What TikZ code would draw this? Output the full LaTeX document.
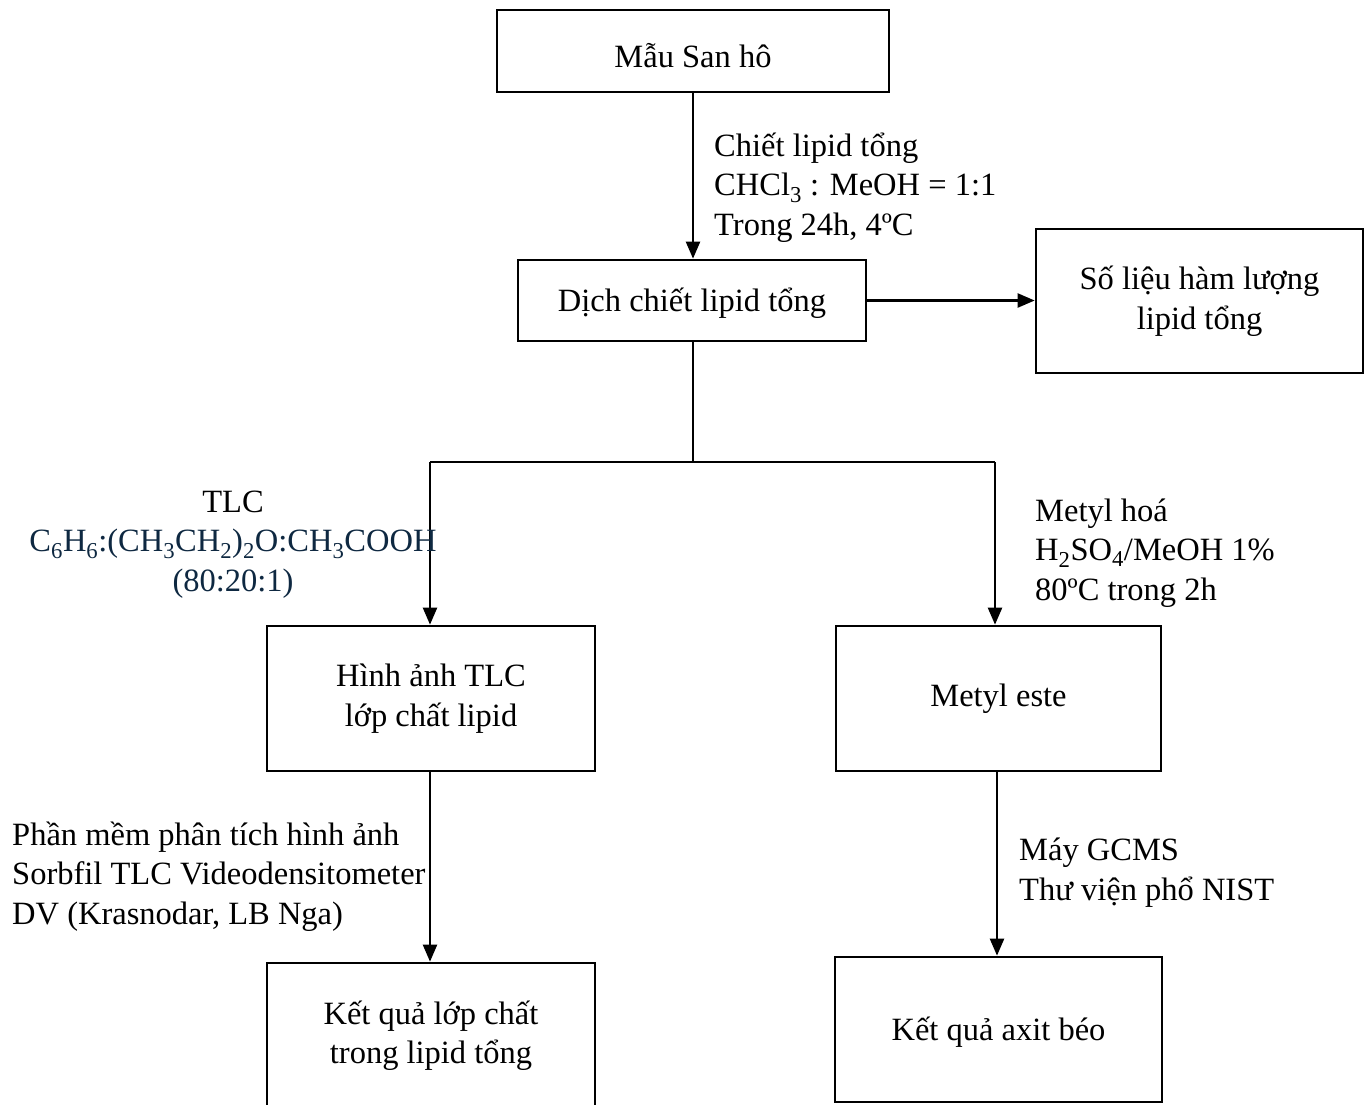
\documentclass[tikz,border=0pt]{standalone}
\usepackage{fontspec}
\setmainfont{Liberation Serif}
\usetikzlibrary{arrows.meta,calc}
\definecolor{navy}{HTML}{0E2841}
\tikzset{
  box/.style={draw=black, line width=2.7pt, fill=white, align=center, inner sep=0pt},
  arr/.style={line width=2.3pt, -{Triangle[length=17pt,width=14pt]}},
  thinline/.style={line width=1.3pt},
  lbl/.style={inner sep=0pt, anchor=base west, align=left},
  lblc/.style={inner sep=0pt, anchor=base, align=center},
}
\newcommand{\lowertext}[2]{\raisebox{-#1}[\height][\depth]{#2}}
\begin{document}
\begin{tikzpicture}[x=1pt,y=-1pt]
\fontsize{32.5}{39.5}\selectfont
\useasboundingbox (0,0) rectangle (1372,1104);
\clip (0,0) rectangle (1372,1104);
\node[box, minimum width=392pt, minimum height=82pt] (b1) at (693,51) {\lowertext{5pt}{Mẫu San hô}};
\node[box, minimum width=348pt, minimum height=81pt] (b2) at (692,300.5) {\lowertext{3pt}{Dịch chiết lipid tổng}};
\node[box, minimum width=327pt, minimum height=144pt] (b3) at (1199.5,301) {Số liệu hàm lượng\\lipid tổng};
\node[box, minimum width=328pt, minimum height=145pt] (b4) at (431,698.5) {Hình ảnh TLC\\lớp chất lipid};
\node[box, minimum width=325pt, minimum height=145pt] (b5) at (998.5,698.5) {Metyl este};
\node[box, minimum width=328pt, minimum height=145pt] (b6) at (431,1035.5) {Kết quả lớp chất\\trong lipid tổng};
\node[box, minimum width=327pt, minimum height=145pt] (b7) at (998.5,1029.5) {\lowertext{3pt}{Kết quả axit béo}};

\coordinate (j) at (693,462);
\coordinate (jl) at (430,462);
\coordinate (jr) at (995,462);

\draw[arr] (b1.south -| j) -- (j |- b2.north);
\draw[arr] (b2.east) -- (b3.west |- b2.east);
\draw[thinline] (j |- b2.south) -- (j);
\draw[thinline] (jl) -- (jr);
\draw[arr] (jl) -- (jl |- b4.north);
\draw[arr] (jr) -- (jr |- b5.north);
\draw[arr] (b4.south -| jl) -- (jl |- b6.north);
\draw[arr] (b5.south -| 997,0) -- (997,0 |- b7.north);

\node[lbl] (l1) at (714,235) {Chiết lipid tổng\\CHCl\textsubscript{3} : MeOH = 1:1\\Trong 24h, 4ºC};
\node[lblc] (l2) at (233,591) {TLC\\\textcolor{navy}{C\textsubscript{6}H\textsubscript{6}:(CH\textsubscript{3}CH\textsubscript{2})\textsubscript{2}O:CH\textsubscript{3}COOH}\\\textcolor{navy}{(80:20:1)}};
\node[lbl] (l3) at (1035,600) {Metyl hoá\\H\textsubscript{2}SO\textsubscript{4}/MeOH 1\%\\80ºC trong 2h};
\node[lbl] (l4) at (12,924) {Phần mềm phân tích hình ảnh\\Sorbfil TLC Videodensitometer\\DV (Krasnodar, LB Nga)};
\node[lbl] (l5) at (1019,900) {Máy GCMS\\Thư viện phổ NIST};
\end{tikzpicture}
\end{document}
